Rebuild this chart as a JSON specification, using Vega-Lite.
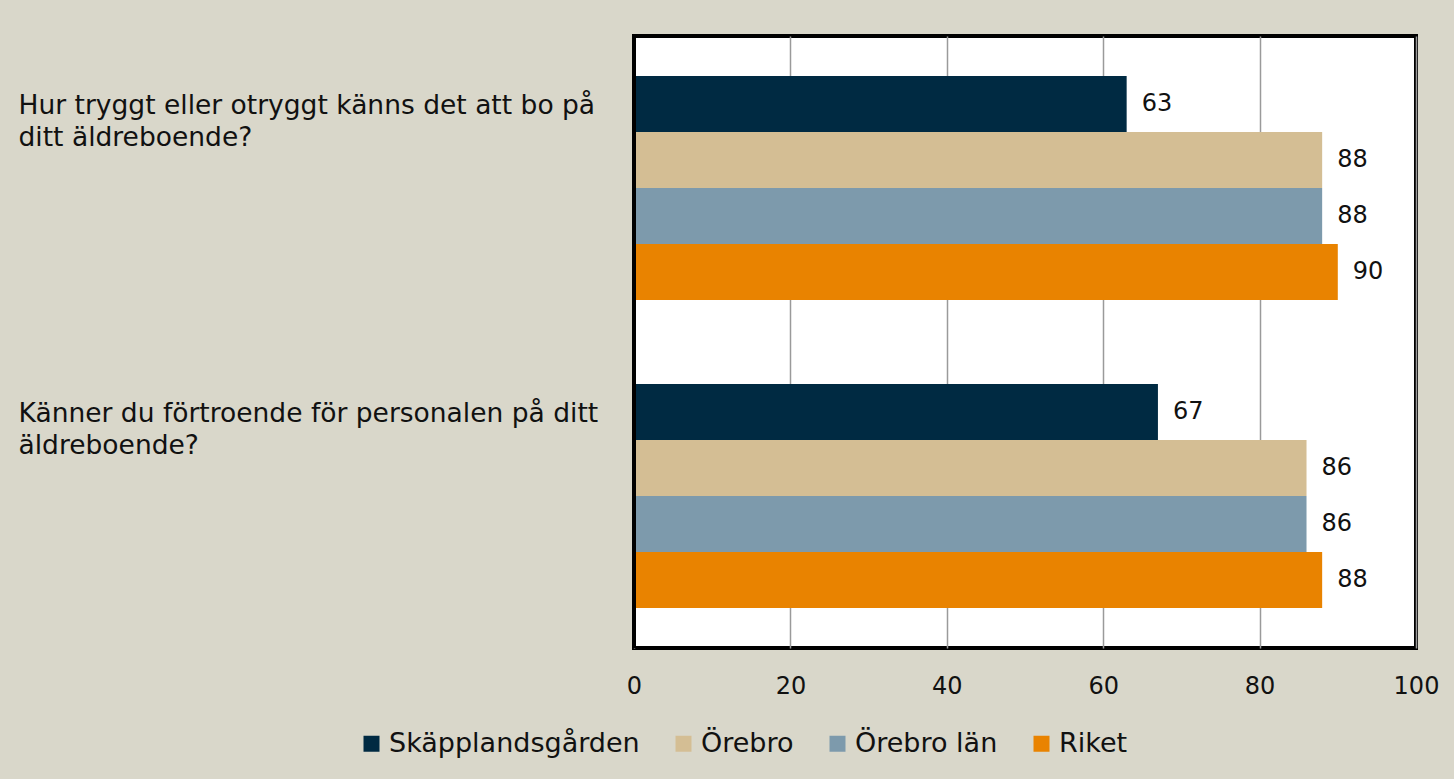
{
  "$schema": "https://vega.github.io/schema/vega-lite/v6.json",
  "autosize": {"type": "none"},
  "width": 782,
  "height": 612,
  "padding": {"left": 634, "top": 36, "right": 38, "bottom": 131},
  "background": "#D9D7CA",
  "config": {
    "font": "DejaVu Sans",
    "view": {"stroke": "#000000", "strokeWidth": 4, "fill": "#FFFFFF"},
    "axis": {"labelFont": "DejaVu Sans", "labelColor": "#111111"},
    "legend": {"labelFont": "DejaVu Sans"}
  },
  "data": {
    "values": [
      {"fraga": "Hur tryggt eller otryggt känns det att bo på|ditt äldreboende?", "serie": "Skäpplandsgården", "varde": 63},
      {"fraga": "Hur tryggt eller otryggt känns det att bo på|ditt äldreboende?", "serie": "Örebro", "varde": 88},
      {"fraga": "Hur tryggt eller otryggt känns det att bo på|ditt äldreboende?", "serie": "Örebro län", "varde": 88},
      {"fraga": "Hur tryggt eller otryggt känns det att bo på|ditt äldreboende?", "serie": "Riket", "varde": 90},
      {"fraga": "Känner du förtroende för personalen på ditt|äldreboende?", "serie": "Skäpplandsgården", "varde": 67},
      {"fraga": "Känner du förtroende för personalen på ditt|äldreboende?", "serie": "Örebro", "varde": 86},
      {"fraga": "Känner du förtroende för personalen på ditt|äldreboende?", "serie": "Örebro län", "varde": 86},
      {"fraga": "Känner du förtroende för personalen på ditt|äldreboende?", "serie": "Riket", "varde": 88}
    ]
  },
  "encoding": {
    "y": {
      "field": "fraga",
      "type": "nominal",
      "sort": null,
      "scale": {"paddingInner": 0.273, "paddingOuter": 0.13},
      "axis": {
        "title": null,
        "domain": false,
        "ticks": false,
        "tickSize": 0,
        "labelAlign": "left",
        "labelBaseline": "middle",
        "labelPadding": 616,
        "labelOffset": -82,
        "labelFontSize": 26.5,
        "labelLineHeight": 32,
        "labelLimit": 0,
        "labelExpr": "split(datum.label, '|')"
      }
    },
    "yOffset": {
      "field": "serie",
      "type": "nominal",
      "scale": {"domain": ["Skäpplandsgården", "Örebro", "Örebro län", "Riket"], "paddingInner": 0, "paddingOuter": 0}
    },
    "x": {
      "field": "varde",
      "type": "quantitative",
      "scale": {"domain": [0, 100], "nice": false},
      "axis": {
        "title": null,
        "values": [0, 20, 40, 60, 80, 100],
        "domain": false,
        "ticks": false,
        "tickSize": 0,
        "labelFlush": false,
        "labelPadding": 26,
        "labelFontSize": 24,
        "grid": true,
        "gridColor": "#9A9A9A",
        "gridWidth": 1.5
      }
    }
  },
  "layer": [
    {
      "mark": {"type": "bar"},
      "encoding": {
        "color": {
          "field": "serie",
          "type": "nominal",
          "scale": {
            "domain": ["Skäpplandsgården", "Örebro", "Örebro län", "Riket"],
            "range": ["#002A42", "#D4BE94", "#7D9AAC", "#E98300"]
          },
          "legend": {
            "title": null,
            "orient": "none",
            "direction": "horizontal",
            "legendX": -276,
            "legendY": 694,
            "symbolType": "square",
            "symbolSize": 256,
            "symbolStrokeWidth": 0,
            "labelFontSize": 27,
            "labelColor": "#111111",
            "labelOffset": 4,
            "columnPadding": 30,
            "labelLimit": 0
          }
        }
      }
    },
    {
      "mark": {"type": "rule", "color": "#000000", "strokeWidth": 4},
      "encoding": {"x": {"datum": 0}, "y": null, "yOffset": null}
    },
    {
      "mark": {"type": "text", "align": "left", "baseline": "middle", "dx": 15, "fontSize": 24, "color": "#111111"},
      "encoding": {
        "text": {"field": "varde", "type": "quantitative"}
      }
    }
  ]
}
